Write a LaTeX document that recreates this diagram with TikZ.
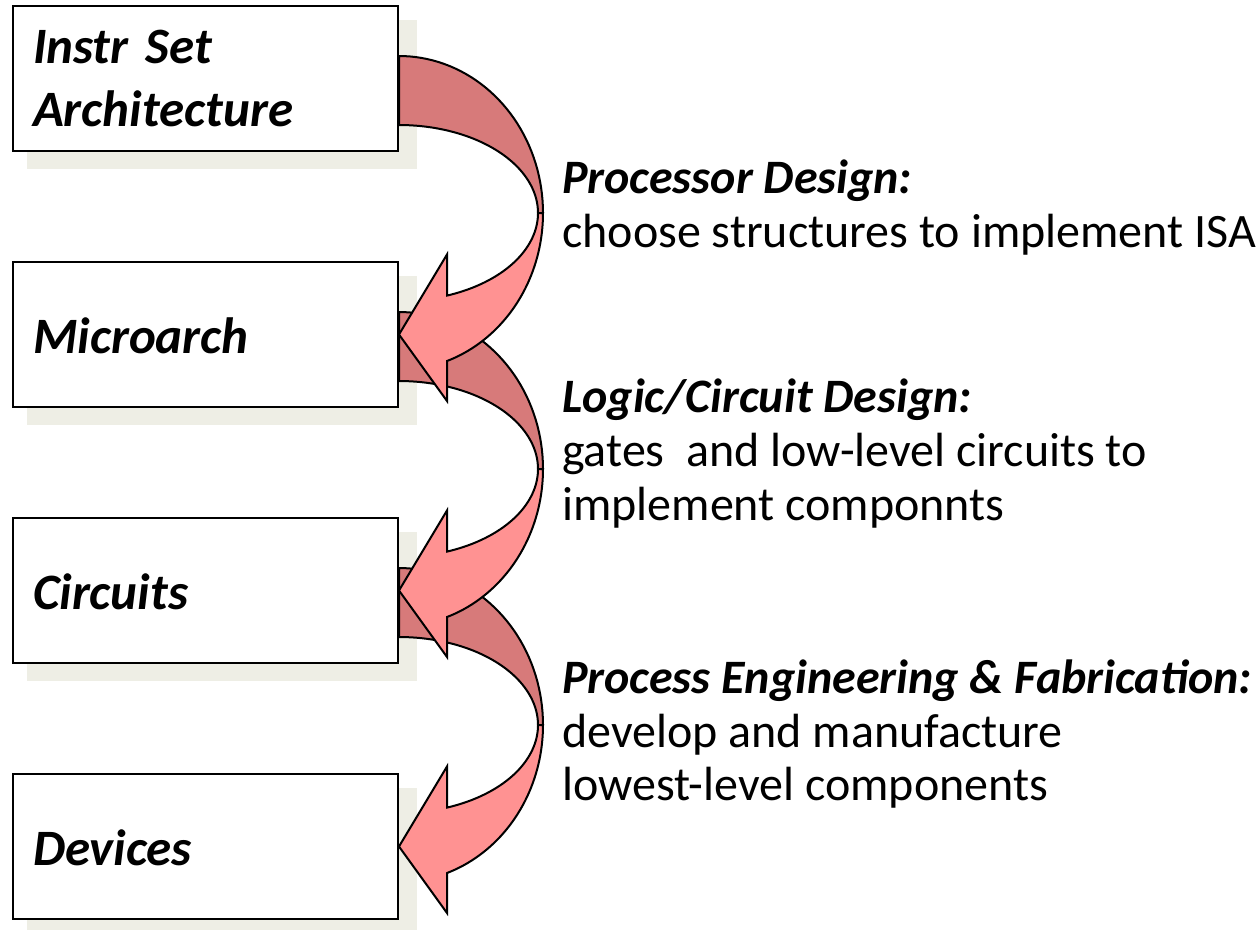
\documentclass[tikz,border=0pt]{standalone}
\usepackage{fontspec}
\setmainfont{Carlito}
\usetikzlibrary{calc}
\definecolor{bandback}{RGB}{215,122,122}
\definecolor{bandfront}{RGB}{255,146,146}
\definecolor{boxshade}{RGB}{238,238,229}
\pgfdeclarelayer{background}
\pgfsetlayers{background,main}
\begin{document}
\begin{tikzpicture}[x=1pt,y=-1pt,
  level/.style={draw, line width=2pt, fill=white, minimum width=385pt,
    minimum height=145pt, text width=345pt, inner xsep=20pt, align=left,
    text height=37pt, text depth=0pt,
    font=\bfseries\itshape\fontsize{51}{63}\selectfont},
  heading/.style={anchor=base west, inner sep=0pt,
    font=\bfseries\itshape\fontsize{48}{54}\selectfont},
  body/.style={anchor=base west, inner sep=0pt, font=\fontsize{48}{54}\selectfont},
  back/.style={fill=bandback, draw, line width=2pt, line join=round},
  front/.style={fill=bandfront, draw, line width=2pt, line join=miter}]
\useasboundingbox (0,0) rectangle (1260,929);

% abstraction levels
\node[level, text depth=68pt] (isa) at (205.5,78.5) {Instr Set\\Architecture};
\node[level] (micro) at (205.5,334.5) {Microarch};
\node[level] (circ)  at (205.5,590.5) {Circuits};
\node[level] (dev)   at (205.5,846.5) {Devices};

% drop shadows behind the boxes
\begin{pgfonlayer}{background}
  \foreach \n in {isa,micro,circ,dev}
    \fill[boxshade] ($(\n.north west)+(15,15)$) rectangle ($(\n.south east)+(18,17)$);
\end{pgfonlayer}

% curved arrows from each level down to the next one
\foreach \a/\b in {circ/dev, micro/circ, isa/micro}{
  \begin{scope}[shift={(\a.east)}]
    \draw[back]
      plot[domain=-90:0, samples=40] ({144*cos(\x)},{134.5+157*sin(\x)})
      -- plot[domain=0:-90, samples=40] ({139*cos(\x)},{134.5+88*sin(\x)})
      -- cycle;
    \draw[front]
      plot[domain=0:69.8, samples=40] ({139*cos(\x)},{134.5+88*sin(\x)})
      -- (48,176) -- (\b.east) -- (48,322.5)
      -- plot[domain=70.53:0, samples=40] ({144*cos(\x)},{134.5+157*sin(\x)})
      -- cycle;
  \end{scope}
}

% descriptions of each design step
\node[heading] (pdh)  at (562,193) {Processor Design:};
\node[body]    (pdb)  at (562,247) {choose structures to implement ISA};
\node[heading] (lch)  at (562,412) {Logic/Circuit Design:};
\node[body]    (lcb1) at (562,466) {gates~ and low-level circuits to};
\node[body]    (lcb2) at (562,520) {implement componnts};
\node[heading] (peh)  at (562,693) {Process Engineering \& Fabrication:};
\node[body]    (peb1) at (562,747) {develop and manufacture};
\node[body]    (peb2) at (562,800) {lowest-level components};
\end{tikzpicture}
\end{document}
